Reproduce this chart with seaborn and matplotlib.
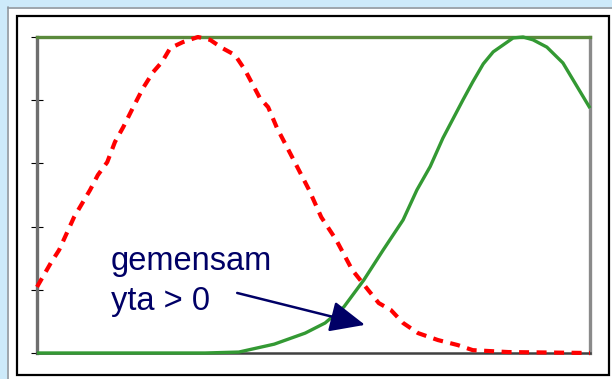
import matplotlib
matplotlib.use("Agg")
import matplotlib.pyplot as plt
from matplotlib.patches import Rectangle
import seaborn as sns
import pandas as pd

# ---- data (x on a 0..100 scale, y normalised 0..1) ----
red_x = [0, 2.5, 4.0, 6.7, 9.6, 11.0, 12.7, 14.1, 15.6, 17.4, 19.2, 21.0, 22.6, 24.1,
         26.4, 29.1, 31.3, 33.5, 35.8, 37.6, 40.3, 41.8, 43.4, 44.8, 46.7, 49.2, 51.4,
         54.1, 57.0, 59.9, 61.8, 64.0, 66.2, 68.9, 72.5, 76.1, 78.8, 85.2, 100]
red_y = [0.209, 0.285, 0.326, 0.430, 0.516, 0.563, 0.604, 0.668, 0.715, 0.778, 0.839,
         0.889, 0.921, 0.965, 0.984, 1.0, 0.991, 0.965, 0.943, 0.896, 0.807, 0.778,
         0.712, 0.665, 0.601, 0.516, 0.430, 0.358, 0.263, 0.199, 0.158, 0.136, 0.095,
         0.063, 0.041, 0.025, 0.009, 0.003, 0.0]

green_x = [0, 30.4, 36.5, 42.9, 48.5, 52.1, 55.5, 59.1, 62.6, 66.2, 68.7, 71.1, 73.4,
           77.0, 78.8, 80.7, 82.5, 86.1, 87.9, 89.7, 92.2, 95.1, 100]
green_y = [0, 0, 0.003, 0.028, 0.063, 0.095, 0.146, 0.231, 0.326, 0.421, 0.516, 0.590,
           0.680, 0.800, 0.858, 0.915, 0.953, 0.997, 1.0, 0.991, 0.968, 0.918, 0.775]

y_ticks = [0, 0.2, 0.4, 0.6, 0.8, 1.0]
label_line1 = "gemensam"
label_line2 = "yta > 0"

sns.set_style("white")
plt.rcParams['font.family'] = ['Liberation Sans', 'DejaVu Sans']

W, H = 612, 379
fig = plt.figure(figsize=(W / 100, H / 100), dpi=100, facecolor="white")

# background decorations (slide frame)
blue = "#cdeafa"
fig.patches.append(Rectangle((0, 1 - 7 / H), 1, 7 / H, transform=fig.transFigure,
                             facecolor=blue, edgecolor="none", zorder=0))
fig.patches.append(Rectangle((0, 0), 7 / W, 1, transform=fig.transFigure,
                             facecolor=blue, edgecolor="none", zorder=0))
fig.add_artist(plt.Line2D([7.5 / W, 7.5 / W], [0, 1 - 7 / H], transform=fig.transFigure,
                          color="#8c969e", lw=1.2))
fig.add_artist(plt.Line2D([7.5 / W, 1], [1 - 7.5 / H, 1 - 7.5 / H], transform=fig.transFigure,
                          color="#8c969e", lw=1.2))
fig.patches.append(Rectangle((17 / W, 1 - 375 / H), (609 - 17) / W, (375 - 16) / H,
                             transform=fig.transFigure, facecolor="none",
                             edgecolor="black", lw=1.6, zorder=1))

ax = fig.add_axes([37 / W, 1 - 353 / H, (590 - 37) / W, (353 - 37) / H])
ax.set_facecolor("white")

red_df = pd.DataFrame({"x": red_x, "y": red_y})
green_df = pd.DataFrame({"x": green_x, "y": green_y})

sns.lineplot(data=green_df, x="x", y="y", ax=ax, color="#339933", lw=2.4,
             estimator=None, sort=False, zorder=3)
sns.lineplot(data=red_df, x="x", y="y", ax=ax, color="#ff0000", lw=3.0,
             estimator=None, sort=False, zorder=4)
ax.lines[1].set_dashes((2.4, 1.8))
for ln in ax.lines:
    ln.set_clip_on(False)
    ln.set_solid_capstyle("butt")
    ln.set_dash_capstyle("butt")

ax.set_xlim(0, 100)
ax.set_ylim(0, 1)
ax.set_xlabel("")
ax.set_ylabel("")
ax.set_xticks([])
ax.set_yticks(y_ticks)
ax.set_yticklabels([])
ax.tick_params(axis="y", direction="inout", length=9, width=0.8, color="black", left=True)

for side in ["left", "right", "top", "bottom"]:
    ax.spines[side].set_visible(True)
ax.spines["left"].set_color("#6e6e6e")
ax.spines["left"].set_linewidth(2.4)
ax.spines["right"].set_color("#8a8a8a")
ax.spines["right"].set_linewidth(2.4)
ax.spines["top"].set_color("#5a8a3c")
ax.spines["top"].set_linewidth(2.4)
ax.spines["bottom"].set_color("#404040")
ax.spines["bottom"].set_linewidth(1.8)

navy = "#000066"
ax.text(13.4, 0.263, label_line1, color=navy, fontsize=23.5, va="baseline", ha="left")
ax.text(13.4, 0.136, label_line2, color=navy, fontsize=23.5, va="baseline", ha="left")
ax.annotate("", xy=(59.3, 0.089), xytext=(36.2, 0.190),
            arrowprops=dict(arrowstyle="-|>,head_length=0.9,head_width=0.4",
                            color=navy, lw=1.8, mutation_scale=24,
                            shrinkA=0, shrinkB=0))

fig.savefig("out.png", dpi=100, facecolor="white")
